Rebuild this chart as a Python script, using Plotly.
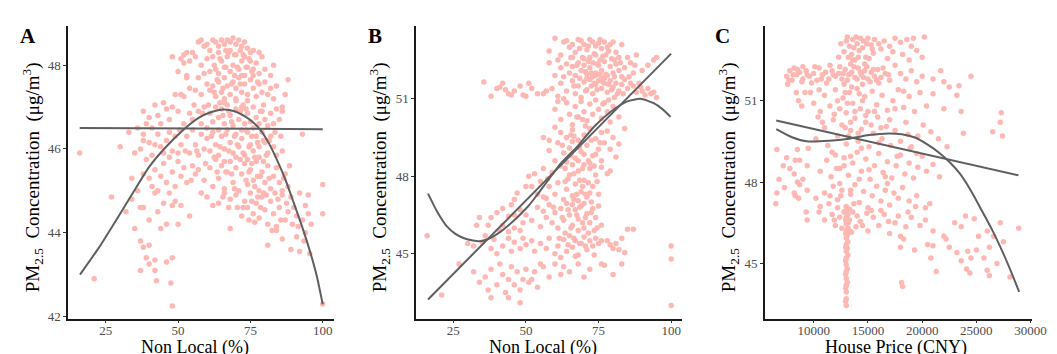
import plotly.graph_objects as go

# ---------------- Panel A : Non Local (%) vs PM2.5 ----------------
a_points = [
    (57,48.55),(58,48.6),(59,48.45),(60,48.5),(62,48.6),(63,48.55),(64,48.45),(65,48.6),(66,48.5),(67,48.6),
    (68,48.55),(69,48.65),(70,48.5),(71,48.6),(72,48.45),(73,48.55),(74,48.4),(75,48.3),(61,48.35),(64,48.3),
    (68,48.35),(76,48.35),(55,48.3),(53,48.3),(48,48.2),(51,48.15),(52,48.05),
    (52,48.25),(54,48.1),(56,48.2),(58,48.0),(60,48.15),(62,48.2),(63,47.9),(65,48.1),(66,47.95),(67,48.2),
    (69,48.0),(70,48.25),(71,47.9),(72,48.1),(73,48.2),(74,47.95),(75,48.1),(76,47.9),(77,48.05),(78,48.3),
    (79,48.2),(80,47.9),(82,47.75),(83,48.0),(50,47.85),(53,47.75),(57,47.7),(59,47.8),(61,47.85),(64,47.8),
    (68,47.85),(72,47.75),(78,47.8),(88,47.65),
    (49,47.3),(51,47.3),(52,47.25),(53,47.7),(54,47.45),(56,47.4),(58,47.3),(60,47.55),(61,47.4),(62,47.5),
    (63,47.25),(64,47.6),(65,47.35),(66,47.7),(67,47.5),(68,47.3),(69,47.6),(70,47.45),(71,47.7),(72,47.35),
    (73,47.55),(74,47.3),(75,47.65),(76,47.45),(77,47.25),(78,47.55),(79,47.35),(80,47.6),(81,47.3),(82,47.45),
    (83,47.2),(84,47.5),(86,47.0),(87,47.3),(70,47.2),(66,47.2),(73,47.75),(76,47.75),
    (38,46.9),(40,46.75),(42,47.05),(43,46.8),(45,47.1),(46,46.95),(47,46.7),(48,47.0),(50,46.9),(44,46.6),
    (41,46.5),(39,46.6),(38,46.35),(36,46.5),(52,46.6),(54,46.85),(55,46.7),(57,46.9),(58,46.6),(59,47.0),
    (61,46.85),(62,46.65),(63,47.0),(64,46.75),(65,46.95),(66,46.6),(67,47.05),(68,46.8),(69,46.55),(70,46.95),
    (71,46.7),(72,47.0),(73,46.6),(74,46.85),(75,46.65),(76,47.0),(77,46.75),(78,46.6),(79,46.9),(80,46.7),
    (81,46.55),(82,46.85),(84,46.95),(85,46.7),(83,46.6),(86,46.9),(66,47.1),(70,47.15),(74,47.15),
    (16,45.9),(33,46.4),(30,46.05),(35,45.9),(37,46.0),(38,46.2),(40,46.15),(41,45.85),(42,46.1),(43,46.35),
    (44,46.05),(45,45.9),(46,46.2),(47,46.4),(48,45.95),(49,46.3),(50,45.9),(51,46.1),(53,46.3),(54,45.9),
    (55,46.45),(56,46.1),(57,45.85),(58,46.35),(59,46.0),(60,46.25),(61,45.95),(62,46.4),(63,46.1),(64,45.85),
    (65,46.3),(66,46.0),(67,46.45),(68,46.15),(69,45.9),(70,46.35),(71,46.05),(72,46.25),(73,45.85),(74,46.4),
    (75,46.1),(76,45.95),(77,46.3),(78,46.05),(79,46.4),(80,46.15),(81,45.9),(82,46.3),(83,46.05),(84,45.85),
    (86,45.95),(93,46.35),(60,46.5),(64,46.45),(72,46.45),(76,46.5),
    (34,45.3),(36,45.0),(38,45.4),(39,45.75),(40,45.3),(41,45.1),(42,45.5),(43,45.0),(44,45.35),(45,45.65),
    (46,45.2),(47,45.8),(48,45.45),(49,45.1),(50,45.7),(51,45.35),(52,45.55),(53,45.2),(55,45.6),(56,45.4),
    (57,45.5),(59,45.25),(61,45.55),(62,45.1),(63,45.75),(64,45.3),(65,45.6),(66,45.05),(67,45.45),(68,45.7),
    (69,45.2),(70,45.55),(71,45.0),(72,45.4),(73,45.65),(74,45.15),(75,45.5),(76,45.25),(77,45.7),(78,45.0),
    (79,45.45),(80,45.2),(81,45.6),(82,45.05),(83,45.35),(84,45.55),(85,45.2),(86,45.0),(87,45.4),(88,45.1),
    (70,45.8),(74,45.75),(78,45.8),(66,45.7),
    (32,44.5),(34,44.8),(35,44.1),(37,44.6),(38,44.6),(40,44.3),(42,44.95),(43,44.5),(44,44.1),(45,44.7),
    (46,44.2),(47,44.95),(48,44.65),(49,44.75),(50,44.2),(51,44.65),(54,44.4),(58,44.95),(60,44.85),(62,44.65),
    (64,44.7),(66,44.95),(68,44.8),(70,44.9),(72,44.4),(73,44.75),(74,44.6),(75,44.95),(76,44.45),(77,44.7),
    (78,44.35),(79,44.85),(80,44.55),(81,44.2),(82,44.75),(83,44.45),(84,44.15),(85,44.6),(86,44.9),(87,44.3),
    (88,44.5),(89,44.85),(90,44.6),(91,44.4),(92,44.95),(93,44.3),(94,44.65),(95,44.45),(96,44.2),(100,45.15),
    (100,44.45),(27,44.85),
    (37,43.8),(38,43.65),(39,43.4),(40,43.7),(42,43.35),(46,43.3),(48,43.4),(37,43.1),(40,43.25),(42,43.1),
    (42.5,42.85),(47.5,42.8),(21,42.9),(48,42.25),(68,44.1),(81,43.7),(84,44.05),(86,43.85),(89,43.6),(91,43.9),
    (92,43.55),(94,44.0),(95.5,43.5),(100,42.3),
    # denser core
    (62.5,48.0),(63.5,47.65),(64.5,47.1),(65.5,46.8),(66.5,46.35),(67.5,45.95),(68.5,45.4),(69.5,45.05),
    (70.5,47.95),(71.5,47.55),(72.5,47.05),(73.5,46.45),(74.5,46.05),(75.5,45.65),(76.5,45.1),(77.5,44.85),
    (78.5,46.9),(79.5,46.2),(80.5,45.85),(67.5,48.3),(69.5,48.25),(71.5,48.35),(73.5,47.95),(75.5,47.85),
    (77.5,47.6),(79.5,47.05),(65.5,47.45),(67.5,46.9),(69.5,46.3),(71.5,45.75),(73.5,45.25),(75.5,44.75),
    (77.5,46.15),(79.5,45.7),(81.5,45.3),(83.5,44.95),(85.5,44.3),(87.5,44.7),(89.5,44.2),(91.5,44.15),
    (93.5,43.8),(95,44.9),(82.5,44.05),(84.5,44.8),(86.5,45.3),(88.5,45.6),(80.5,44.9),(78.5,44.6),
    (76.5,44.25),(74.5,44.3),(72.5,44.6),(70.5,44.6),(68.5,46.65),(66.5,47.95),(64.5,48.15),(62.5,47.35),
    (60.5,47.05),(58.5,46.85),(56.5,45.95),(54.5,45.25),(52.5,45.95),(50.5,46.45),(55.5,47.05),(59.5,45.65),
    (61.5,46.3),(63.5,45.45),(65.5,44.85),(67.5,44.6),(69.5,47.75),(71.5,46.9),(73.5,46.95),(75.5,46.3),
    (77.5,45.35),(79.5,44.95),(81.5,46.2),(83.5,46.4),(85.5,46.3),(70.5,46.1),(72.5,45.9),(74.5,45.45),
    (76.5,45.8),(78.5,45.35),(66.5,45.45),(64.5,46.05),(62.5,45.8),(68.5,47.55),(72.5,48.25),(74.5,48.15),
    (66.5,48.35),
]
a_flat_x = [16, 100]
a_flat_y = [46.5, 46.47]
a_curve_x = [16.1, 23.0, 28.7, 34.3, 40.0, 45.7, 51.4, 57.1, 61.5, 65.6, 69.5, 73.0, 76.0, 78.7, 81.5, 84.3, 87.2, 90.0, 92.9, 95.7, 98.0, 100]
a_curve_y = [43.0, 43.68, 44.31, 44.94, 45.57, 46.04, 46.43, 46.74, 46.88, 46.94, 46.9, 46.78, 46.63, 46.43, 46.12, 45.72, 45.25, 44.71, 44.14, 43.53, 42.95, 42.29]

# ---------------- Panel B : Non Local (%) vs PM2.5 ----------------
b_points = [
    (58,52.85),(60,53.35),(62,52.7),(63,53.2),(64,53.25),(65,53.0),(66,53.1),(67,52.8),(68,53.3),(69,53.25),
    (70,53.1),(71,52.9),(72,53.3),(73,53.2),(74,53.05),(75,53.15),(76,52.95),(77,53.2),(78,53.0),(79,53.1),
    (80,53.2),(81,52.8),(82,52.6),(83,53.1),(85,52.6),(72,52.6),(70,52.55),(74,52.7),(66,52.6),(61,52.5),(88,52.7),
    (58,52.4),(60,51.9),(62,52.2),(63,51.85),(64,52.35),(65,52.0),(66,52.25),(67,51.9),(68,52.4),(69,52.1),
    (70,52.3),(71,51.95),(72,52.2),(73,52.4),(74,52.0),(75,52.3),(76,52.1),(77,52.45),(78,51.9),(79,52.25),
    (80,52.0),(81,52.35),(82,52.1),(83,51.85),(84,52.2),(86,52.4),(87,52.0),(90,52.1),(92,52.3),(94,52.5),
    (95,52.6),(76,51.8),(73,51.85),
    (59,51.4),(61,51.1),(62,51.6),(64,51.3),(66,51.7),(67,51.2),(68,51.5),(69,51.05),(70,51.65),(71,51.35),
    (72,51.75),(73,51.2),(74,51.55),(75,51.7),(76,51.4),(77,51.6),(78,51.25),(79,51.7),(80,51.45),(81,51.6),
    (82,51.3),(83,51.55),(84,51.75),(85,51.4),(86,51.6),(87,51.5),(88,51.25),(89,51.6),(90,51.3),(91,51.15),
    (92,51.4),(93,51.2),(94,51.25),(95,51.05),(71,51.8),(77,51.8),(74,51.9),(63,51.0),
    (35.5,51.65),(38,51.1),(40,51.4),(41,51.45),(42,51.6),(43,51.35),(44,51.2),(45,51.15),(46,51.3),(48,51.5),
    (49,51.15),(50,51.1),(51,51.6),(52,51.4),(54,51.2),(56,51.2),(57,51.3),
    (60,50.6),(62,50.2),(64,50.85),(65,50.4),(66,50.0),(67,50.7),(68,50.3),(69,50.9),(70,50.5),(71,50.15),
    (72,50.8),(73,50.4),(74,50.95),(75,50.6),(76,50.25),(77,50.85),(78,50.5),(79,50.1),(80,50.7),(82,50.3),
    (84,49.85),(61,50.9),
    (56,49.5),(58,49.4),(60,49.9),(61,49.3),(62,49.7),(63,48.9),(64,49.5),(65,49.1),(66,49.8),(67,48.7),
    (68,49.4),(69,48.95),(70,49.6),(71,49.2),(72,49.85),(73,48.8),(74,49.45),(75,49.05),(76,49.7),(77,49.3),
    (78,49.75),(79,49.05),(80,49.5),(81,48.75),(82,49.25),(60,48.6),(64,48.55),(68,48.6),(72,48.5),(58,49.0),
    (66,49.35),(70,48.85),(74,48.85),(76,48.6),
    (51,48.0),(52,47.6),(53,48.1),(54,47.3),(55,47.8),(56,48.3),(57,47.15),(58,47.6),(59,48.15),(60,47.3),
    (61,47.75),(62,48.4),(63,47.1),(64,47.5),(65,48.05),(66,47.25),(67,47.7),(68,48.2),(69,47.4),(70,47.85),
    (71,47.2),(72,48.3),(73,47.6),(74,48.05),(75,47.3),(76,48.35),(78,48.1),(79,48.2),(66,48.45),(70,48.45),
    (68,47.05),(72,47.35),(56,47.2),(50,47.6),(47,47.35),(46,47.1),
    (34,46.4),(37,46.1),(38,46.4),(40,46.6),(42,46.75),(44,46.45),(45,46.9),(46,46.5),(48,46.7),(49,46.2),
    (50,46.5),(52,46.3),(54,46.8),(55,46.05),(56,46.65),(57,46.4),(58,46.9),(59,46.2),(60,46.6),(61,46.0),
    (62,46.75),(63,46.3),(64,46.95),(65,46.5),(66,46.1),(67,46.7),(68,46.35),(69,46.85),(70,46.0),(71,46.55),
    (72,46.2),(73,46.75),(74,46.4),(75,46.85),(76,46.1),(70,46.95),(66,46.9),(68,45.9),(33,46.1),(42,46.1),
    (41,45.9),(44,45.85),(46,46.0),(48,45.9),
    (16,45.7),(30,45.4),(32,45.3),(35,45.45),(36,45.7),(38,45.2),(39,45.55),(40,45.0),(42,45.3),(44,45.6),
    (45,45.1),(46,45.45),(48,45.2),(49,45.6),(50,45.35),(52,45.5),(53,45.1),(55,45.4),(57,45.2),(58,45.6),
    (60,45.0),(61,45.3),(62,44.85),(63,45.55),(64,45.1),(65,45.7),(66,45.25),(67,45.5),(68,44.95),(69,45.4),
    (70,45.65),(71,45.15),(72,45.5),(73,45.3),(74,45.6),(75,45.4),(76,45.5),(78,45.5),(79,45.35),(80,45.2),
    (81,45.4),(82,45.15),(83,45.6),(85,45.95),(87,45.95),(84,45.05),(100,45.3),(100,44.8),(67,44.9),(76,44.6),
    (77,44.55),
    (21,43.4),(27,44.6),(32,44.3),(34,43.9),(36,44.1),(37,43.6),(38,44.4),(38,43.3),(40,43.8),(41,44.6),
    (42,44.2),(43,43.5),(44,44.0),(45,44.5),(46,43.8),(47,44.3),(48,43.6),(48,43.1),(49,44.0),(50,44.4),
    (51,43.9),(53,44.3),(54,43.7),(56,44.5),(58,44.1),(60,44.6),(62,44.2),(63,44.5),(65,44.3),(68,44.6),
    (70,44.1),(72,44.4),(80,44.2),(83,44.6),(100,43.0),(44,43.3),(52,44.0),(55,44.6),
    # denser core
    (65.5,52.6),(66.5,51.5),(67.5,52.3),(68.5,51.8),(69.5,52.6),(70.5,51.3),(71.5,52.45),(72.5,51.5),
    (73.5,52.75),(74.5,51.35),(75.5,52.5),(76.5,51.65),(77.5,52.7),(78.5,51.55),(79.5,52.55),(80.5,51.85),
    (81.5,51.2),(82.5,52.4),(73.5,51.6),(75.5,51.95),(77.5,51.95),(70.5,52.05),(72.5,52.0),(74.5,52.35),
    (76.5,52.65),(78.5,52.85),(80.5,52.5),(68.5,52.95),(71.5,53.05),(75.5,53.3),(79.5,51.35),(83.5,51.2),
    (85.5,51.85),(87.5,52.3),(89.5,51.45),(76.5,50.8),(78.5,50.95),(80.5,51.05),
    (62.5,49.2),(63.5,48.3),(64.5,47.9),(65.5,49.6),(66.5,48.1),(67.5,46.5),(68.5,49.1),(69.5,47.6),
    (70.5,46.4),(71.5,48.6),(72.5,47.0),(73.5,45.9),(74.5,47.8),(75.5,49.3),(65.5,46.0),(66.5,45.6),
    (67.5,47.3),(68.5,45.4),(69.5,46.2),(70.5,47.3),(71.5,45.8),(72.5,46.6),(73.5,48.4),(74.5,46.0),
    (62.5,46.4),(63.5,45.8),(64.5,46.7),(63.5,47.8),(69.5,50.2),(72.5,49.4),(70.5,49.95),(67.5,50.3),
    (65.5,48.8),(71.5,47.75),(69.5,48.3),(68.5,47.85),(66.5,47.1),(61.5,45.6),(59.5,46.8),(57.5,47.9),
    (64.5,45.35),(70.5,45.3),(73.5,44.95),(68.5,46.8),(66.5,49.55),
]
b_line_x = [16.3, 100]
b_line_y = [43.23, 52.75]
b_curve_x = [16.3, 19.5, 22.8, 25.6, 28.5, 31.3, 34.2, 37.0, 39.8, 42.6, 45.5, 48.3, 51.1, 54.0, 57.0, 62.0, 67.9, 73.6, 79.3, 84.9, 89.4, 94.0, 97.0, 99.8]
b_curve_y = [47.33, 46.62, 46.06, 45.78, 45.61, 45.52, 45.48, 45.57, 45.74, 45.97, 46.25, 46.55, 46.88, 47.3, 47.75, 48.5, 49.18, 49.94, 50.51, 50.9, 51.0, 50.83, 50.6, 50.3]

# ---------------- Panel C : House Price (CNY) vs PM2.5 ----------------
c_points = [
    (12500,53.1),(13000,53.2),(13300,53.0),(13600,53.25),(14000,53.1),(14300,53.3),(14600,53.2),(15000,53.3),
    (15300,53.05),(15600,53.25),(16000,53.1),(16500,53.2),(17000,53.0),(17500,53.3),(18000,53.15),(18600,53.25),
    (19200,53.3),(20200,53.35),(19000,53.0),(12800,52.8),(13500,52.7),(14200,52.85),(14800,52.6),(15500,52.75),
    (16200,52.9),(16800,52.55),(17300,52.8),(18200,52.7),(19500,52.85),(20000,52.6),(13800,52.5),(15100,52.55),
    (12300,52.6),(18800,52.5),
    (7500,51.9),(7800,52.1),(8000,51.75),(8200,52.2),(8400,51.95),(8700,52.05),(9000,51.8),(9300,52.1),
    (9600,51.9),(10000,52.0),(10300,51.75),(10500,52.2),(10800,51.95),(11100,52.05),(11400,51.8),(11700,52.1),
    (12000,51.9),(12300,52.0),(12600,51.8),(12900,52.15),(13200,51.95),(13500,52.05),(13800,51.85),(14100,52.2),
    (14400,51.95),(14700,52.1),(15000,51.8),(15300,52.05),(15600,51.9),(15900,52.15),(16200,51.85),(16600,52.0),
    (17000,51.75),(17500,52.3),(18000,52.0),(18500,51.8),(19000,52.1),(19500,51.7),(20000,51.9),(21000,51.8),
    (21700,52.1),(22000,51.7),(22500,51.5),(23400,51.55),(24500,51.9),(7600,51.6),(9800,51.65),(12800,51.6),
    (14500,51.6),(16000,51.65),(13400,52.35),(11500,52.3),(9000,52.25),
    (8600,51.0),(9200,51.3),(10000,50.9),(10600,50.6),(11000,51.2),(11500,50.8),(12000,51.4),(12400,50.7),
    (12700,51.1),(13000,50.55),(13300,51.3),(13600,50.9),(14000,51.45),(14300,50.7),(14700,51.15),(15000,50.6),
    (15400,51.35),(15800,50.85),(16300,51.2),(16800,50.65),(17300,51.0),(17800,51.4),(18300,50.75),(18800,51.15),
    (19300,50.6),(19800,51.3),(20400,50.8),(21000,51.25),(22000,50.7),(23200,51.2),(23600,50.6),(12200,51.0),
    (14500,51.0),(10500,51.4),
    (10200,49.6),(11000,50.0),(11300,49.35),(11800,50.3),(12200,49.7),(12600,50.1),(13000,49.4),(13400,49.9),
    (13800,50.35),(14100,49.5),(14400,49.95),(14800,50.2),(15100,49.3),(15500,49.8),(15900,50.4),(16300,49.6),
    (16700,50.05),(17100,49.35),(17500,49.9),(18000,49.5),(18500,50.2),(19000,49.3),(19600,49.7),(20100,50.1),
    (20800,49.85),(21500,49.6),(22300,49.3),(23800,49.8),(26500,49.85),(27200,50.2),(27400,49.7),(27300,50.55),
    (9500,49.25),(10400,50.4),(16000,49.45),(18700,49.75),
    (6800,48.1),(7800,48.5),(8200,48.3),(8500,49.2),(8700,48.8),(9000,48.1),(10600,48.4),(11200,48.8),
    (11600,48.2),(12000,49.0),(12400,48.5),(12800,48.9),(13200,48.25),(13600,48.7),(14000,49.1),(14400,48.4),
    (14800,48.85),(15200,48.1),(15600,48.6),(16000,49.05),(16400,48.35),(16800,48.75),(17200,48.15),(17600,48.6),
    (18000,49.0),(18400,48.3),(18800,48.7),(19200,48.15),(19600,48.55),(20000,48.95),(20400,48.4),(21000,48.65),
    (21600,48.2),(6600,49.2),(7500,48.9),(9400,48.6),(8300,48.8),(8500,48.0),(7200,48.6),
    (6500,47.2),(6600,47.6),(7300,47.8),(8300,47.5),(8700,47.9),(9400,47.7),(10200,47.4),(10600,47.1),
    (11000,47.6),(11400,47.2),(11800,47.85),(12200,47.35),(12600,47.7),(13000,47.1),(13400,47.55),(13800,47.9),
    (14200,47.25),(14600,47.65),(15000,47.05),(15400,47.5),(15800,47.85),(16200,47.3),(16600,47.7),(17000,47.15),
    (17400,47.6),(17800,47.4),(18200,47.8),(18800,47.3),(19500,47.5),(20300,47.05),(20700,47.2),(12400,47.95),
    (16800,47.95),(8600,47.4),(8200,47.6),
    (9300,46.9),(9400,46.6),(10500,46.9),(11000,46.6),(11700,46.8),(12000,46.4),(12400,46.7),(12900,46.9),
    (13200,46.5),(13500,46.15),(14000,46.75),(14500,46.4),(15000,46.2),(15500,46.7),(16000,46.4),(16500,46.8),
    (17000,46.1),(17500,46.5),(18000,46.0),(18500,46.35),(19000,46.7),(19800,46.4),(20300,46.6),(21000,46.2),
    (22000,46.0),(23000,46.5),(23600,46.35),(24000,46.75),(24800,46.65),(26000,46.2),(27200,46.5),(28900,46.3),
    (26600,46.0),(25200,46.0),
    (18000,45.6),(18300,45.9),(19300,45.5),(20500,45.7),(21000,45.65),(20800,45.2),(22500,45.6),(23200,45.4),
    (23600,45.1),(24200,45.45),(24500,45.2),(25000,45.5),(25700,45.2),(26200,45.6),(26900,45.0),(24100,44.8),
    (24400,44.65),(26000,44.75),(26200,44.55),(21300,44.7),(18100,44.3),(18200,44.15),(28100,44.5),(22200,45.9),
    (27500,45.8),
    (13000,43.45),(13000,43.7),(13000,43.95),(13000,44.2),(13000,44.45),(13000,44.7),(13000,44.95),(13000,45.2),
    (13000,45.45),(13000,45.7),(13000,45.95),(13000,46.2),(13000,46.45),(13000,46.7),(13000,46.95),
    (13150,45.3),(13150,45.8),(13150,46.3),(13150,46.8),(13150,47.0),(13300,46.2),(13300,46.6),(13300,47.0),
    # denser core
    (7700,51.75),(8100,51.95),(8500,52.15),(8900,51.7),(9400,51.95),(10100,52.25),(10700,51.8),(11200,51.65),
    (11800,51.95),(12400,52.25),(12700,52.0),(13100,51.75),(13400,52.0),(13700,52.25),(14000,51.8),(14300,52.05),
    (14600,51.85),(14900,52.25),(15200,51.7),(15500,52.15),(15800,51.75),(16400,52.2),(16900,51.95),(13200,52.6),
    (13700,52.95),(14100,52.6),(14500,52.95),(14900,53.1),(15400,52.9),(13900,53.35),(13100,53.35),(14700,52.35),
    (13600,52.5),(12900,51.3),(13500,51.5),(14200,51.25),(13800,50.6),(13100,50.9),(14800,50.45),(13400,50.2),
    (12900,50.0),(14100,49.8),(13200,49.7),(14400,49.25),(12800,48.6),(13400,48.95),(14200,48.1),(12500,47.5),
    (13700,47.2),(12800,46.9),(12200,47.05),(11500,47.5),(11900,46.6),(13400,47.7),(13600,46.9),(14300,46.55),
    (12600,46.3),(13900,46.35),(15300,46.95),(14900,46.85),(16200,46.95),(16900,46.55),(17800,46.75),(18700,46.9),
    (19400,47.1),(12100,48.5),(11700,49.1),(15100,48.45),(16600,48.2),(17700,48.95),(18900,49.25),(19500,49.05),
    (16200,50.0),(17000,50.3),(15300,50.1),(15600,50.6),(17500,50.7),(18300,51.35),(11900,50.5),(10800,50.2),
    (9700,51.3),(8900,50.8),(8400,51.3),
    (12950,43.6),(12950,44.1),(12950,44.6),(12950,45.1),(12950,45.6),(12950,46.1),(12950,46.6),(13100,44.3),
    (13100,44.8),(13100,45.55),(13100,46.05),(13100,46.55),
]
c_line_x = [6545, 28879]
c_line_y = [50.27, 48.25]
c_curve_x = [6545, 8000, 9333, 11455, 13273, 15090, 16909, 18121, 19333, 20545, 21500, 22500, 23500, 24500, 25500, 26500, 27500, 28300, 28950]
c_curve_y = [49.95, 49.65, 49.5, 49.52, 49.6, 49.73, 49.79, 49.76, 49.64, 49.37, 49.1, 48.75, 48.3, 47.68, 46.95, 46.2, 45.35, 44.6, 43.95]

# tick values
a_xticks = [25, 50, 75, 100]
a_yticks = [42, 44, 46, 48]
b_xticks = [25, 50, 75, 100]
b_yticks = [45, 48, 51]
c_xticks = [10000, 15000, 20000, 25000, 30000]
c_yticks = [45, 48, 51]

W, H = 1057, 354
FONT = "Liberation Serif"
PT_COLOR = "#FDB8B3"
LINE_COLOR = "#5F5F5F"

fig = go.Figure()

panels = [
    ("x", "y", a_points, (a_flat_x, a_flat_y), (a_curve_x, a_curve_y)),
    ("x2", "y2", b_points, (b_line_x, b_line_y), (b_curve_x, b_curve_y)),
    ("x3", "y3", c_points, (c_line_x, c_line_y), (c_curve_x, c_curve_y)),
]
for xa, ya, pts, l1, l2 in panels:
    px = [p[0] for p in pts]
    py = [p[1] for p in pts]
    fig.add_trace(go.Scatter(x=px, y=py, mode="markers", xaxis=xa, yaxis=ya,
                             marker=dict(size=5.5, color=PT_COLOR, line=dict(width=0)),
                             showlegend=False, hoverinfo="skip"))
    fig.add_trace(go.Scatter(x=l1[0], y=l1[1], mode="lines", xaxis=xa, yaxis=ya,
                             line=dict(color=LINE_COLOR, width=2), showlegend=False))
    fig.add_trace(go.Scatter(x=l2[0], y=l2[1], mode="lines", xaxis=xa, yaxis=ya,
                             line=dict(color=LINE_COLOR, width=2, shape="spline", smoothing=0.6),
                             showlegend=False))

ydom = [39 / H, 336 / H]
doms = [(61, 331), (414, 683.3), (767.7, 1038.3)]
xranges = [[12, 104], [12.2, 103.6], [5491, 30090]]
yranges = [[41.95, 48.94], [42.49, 53.83], [42.97, 53.76]]
xticks = [a_xticks, b_xticks, c_xticks]
yticks = [a_yticks, b_yticks, c_yticks]

axis_common = dict(showgrid=False, zeroline=False, showline=True, linecolor="#1A1A1A", linewidth=1.6,
                   ticks="outside", ticklen=3, tickwidth=1.2, tickcolor="#333333",
                   tickfont=dict(family=FONT, size=13, color="#4D4D4D"), fixedrange=True,
                   tickformat="d")

layout = dict(width=W, height=H, margin=dict(l=0, r=0, t=0, b=0),
              paper_bgcolor="white", plot_bgcolor="white", showlegend=False)
for i in range(3):
    sx = "" if i == 0 else str(i + 1)
    layout["xaxis" + sx] = dict(domain=[doms[i][0] / W, doms[i][1] / W], range=xranges[i],
                                tickvals=xticks[i], anchor="y" + sx, ticklabelstandoff=-4, **axis_common)
    layout["yaxis" + sx] = dict(domain=ydom, range=yranges[i], tickvals=yticks[i],
                                anchor="x" + sx, **axis_common)
fig.update_layout(**layout)

ytitle = "PM<sub>2.5</sub>\u00a0\u00a0Concentration\u00a0\u00a0(μg/m<sup>3</sup>)"
xtitles = ["Non Local (%)", "Non Local (%)", "House Price (CNY)"]
letters = ["A", "B", "C"]
ytitle_x = [25, 377, 731]
letter_x = [20, 372, 725]
xtitle_cx = [190, 543, 901]
for i in range(3):
    fig.add_annotation(x=ytitle_x[i] / W, y=(354 - 172) / H, xref="paper", yref="paper",
                       text=ytitle, textangle=-90, showarrow=False,
                       font=dict(family=FONT, size=19, color="black"), xanchor="center", yanchor="middle")
    fig.add_annotation(x=xtitle_cx[i] / W, y=(354 - 344) / H, xref="paper", yref="paper",
                       text=xtitles[i], showarrow=False,
                       font=dict(family=FONT, size=18, color="black"), xanchor="center", yanchor="middle")
    fig.add_annotation(x=letter_x[i] / W, y=(354 - 28) / H, xref="paper", yref="paper",
                       text="<b>" + letters[i] + "</b>", showarrow=False,
                       font=dict(family=FONT, size=21, color="black"), xanchor="center", yanchor="middle")

fig.write_html("out.html")
